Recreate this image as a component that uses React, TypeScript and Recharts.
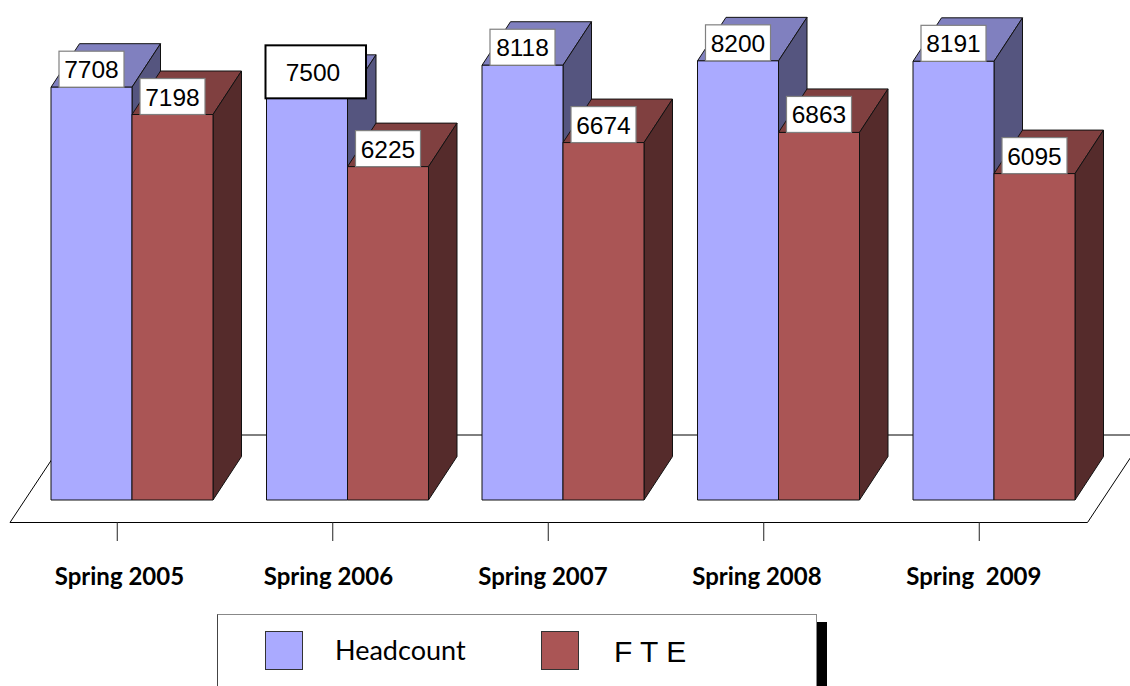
import React from 'react';
import { BarChart, Bar, XAxis, YAxis, Legend, LabelList, usePlotArea } from 'recharts';

const categories = ['Spring 2005', 'Spring 2006', 'Spring 2007', 'Spring 2008', 'Spring  2009'];
const headcount = [7708, 7500, 8118, 8200, 8191];
const fte = [7198, 6225, 6674, 6863, 6095];

const data = categories.map((title, i) => ({ title, headcount: headcount[i], fte: fte[i] }));

const DEPTH_X = 28.5;
const DEPTH_Y = 43.5;
const LABEL_SHIFT = [-77, -83.5, -84.5, -86, -87.5];

function Bar3D({ x, y, width, height, fill, topFill, sideFill }: any) {
  const r = x + width;
  const b = y + height;
  return (
    <g stroke="#111" strokeWidth={1} strokeLinejoin="round">
      <polygon
        points={`${x},${y} ${x + DEPTH_X},${y - DEPTH_Y} ${r + DEPTH_X},${y - DEPTH_Y} ${r},${y}`}
        fill={topFill}
      />
      <polygon
        points={`${r},${y} ${r + DEPTH_X},${y - DEPTH_Y} ${r + DEPTH_X},${b - DEPTH_Y} ${r},${b}`}
        fill={sideFill}
      />
      <rect x={x} y={y} width={width} height={height} fill={fill} />
    </g>
  );
}

function Floor() {
  const plot = usePlotArea();
  if (!plot) return null;
  const baseline = plot.y + plot.height;
  const frontY = baseline + 22.5;
  const backY = baseline - 65;
  const left = plot.x - 14;
  const right = plot.x + plot.width - 14;
  const points = `${left},${frontY} ${left + 58},${backY} ${right + 58},${backY} ${right},${frontY}`;
  return <polygon points={points} fill="#fff" stroke="#000" strokeWidth={1} />;
}

function CategoryTick({ x, y, payload, index }: any) {
  return (
    <g>
      <line x1={x - 14.5} x2={x - 14.5} y1={y + 22} y2={y + 41} stroke="#222" strokeWidth={1} />
      <text
        x={x + LABEL_SHIFT[index]}
        y={y + 84.5}
        fontFamily="Lato"
        fontWeight={700}
        fontSize={24}
        fill="#000"
        style={{ whiteSpace: 'pre' }}
      >
        {payload.value}
      </text>
    </g>
  );
}

function ValueLabel({ x, y, value, index, series }: any) {
  const big = series === 'headcount' && index === 1;
  const boxX = big ? x - 1 : x + 8;
  const boxW = big ? 100.5 : 65;
  const boxH = big ? 53 : 36;
  return (
    <g>
      <rect
        x={boxX}
        y={y - boxH}
        width={boxW}
        height={boxH}
        fill="#fff"
        stroke={big ? '#000' : '#808080'}
        strokeWidth={big ? 2 : 1.2}
      />
      <text
        x={big ? boxX + 47.5 : boxX + boxW / 2}
        y={y - boxH / 2 + (big ? 1 : 0.5)}
        textAnchor="middle"
        dominantBaseline="central"
        fontFamily="Liberation Sans"
        fontSize={24.5}
        fill="#000"
      >
        {value}
      </text>
    </g>
  );
}

function LegendBox({ payload }: any) {
  const xs = [265, 541];
  const textXs = [335, 614];
  const textTops = [633, 634.5];
  return (
    <div style={{ position: 'absolute', left: 0, top: 0 }}>
      <div
        style={{
          position: 'absolute',
          left: 217,
          top: 614,
          width: 600,
          height: 72,
          boxSizing: 'border-box',
          borderTop: '1px solid #888',
          borderLeft: '1px solid #444',
          borderRight: '1px solid #888',
        }}
      />
      <div style={{ position: 'absolute', left: 817, top: 622, width: 10, height: 64, background: '#000' }} />
      {(payload || []).map((entry: any, i: number) => (
        <React.Fragment key={entry.value}>
          <div
            style={{
              position: 'absolute',
              left: xs[i],
              top: 631,
              width: 38,
              height: 39,
              boxSizing: 'border-box',
              background: entry.color,
              border: '1px solid #333',
            }}
          />
          <div
            style={{
              position: 'absolute',
              left: textXs[i],
              top: textTops[i],
              fontFamily: i === 0 ? 'Lato' : 'Liberation Sans',
              fontSize: i === 0 ? 27 : 30,
              lineHeight: '34px',
              whiteSpace: 'pre',
              color: '#000',
            }}
          >
            {entry.value}
          </div>
        </React.Fragment>
      ))}
    </div>
  );
}

export default function App() {
  return (
    <div style={{ position: 'absolute', left: 0, top: 0, width: 1130, height: 686, overflow: 'hidden' }}>
      <BarChart
        width={1130}
        height={686}
        data={data}
        margin={{ top: 18, right: 28.5, bottom: 96, left: 24 }}
        barCategoryGap={27}
        barGap={0}
      >
        <Floor />
        <XAxis
          dataKey="title"
          axisLine={false}
          tickLine={false}
          tickSize={0}
          tickMargin={0}
          height={90}
          interval={0}
          tick={CategoryTick}
        />
        <YAxis hide domain={[0, 9000]} />
        <Legend
          content={LegendBox}
          itemSorter={null}
          wrapperStyle={{ position: 'absolute', left: 0, top: 0, width: 0, height: 0 }}
        />
        <Bar
          dataKey="headcount"
          name="Headcount"
          fill="#AAAAFF"
          isAnimationActive={false}
          shape={(p: any) => <Bar3D {...p} topFill="#8080BF" sideFill="#55557F" />}
        >
          <LabelList dataKey="headcount" content={(p: any) => <ValueLabel {...p} series="headcount" />} />
        </Bar>
        <Bar
          dataKey="fte"
          name="F T E"
          fill="#AA5555"
          isAnimationActive={false}
          shape={(p: any) => <Bar3D {...p} topFill="#804040" sideFill="#552B2B" />}
        >
          <LabelList dataKey="fte" content={(p: any) => <ValueLabel {...p} series="fte" />} />
        </Bar>
      </BarChart>
    </div>
  );
}
